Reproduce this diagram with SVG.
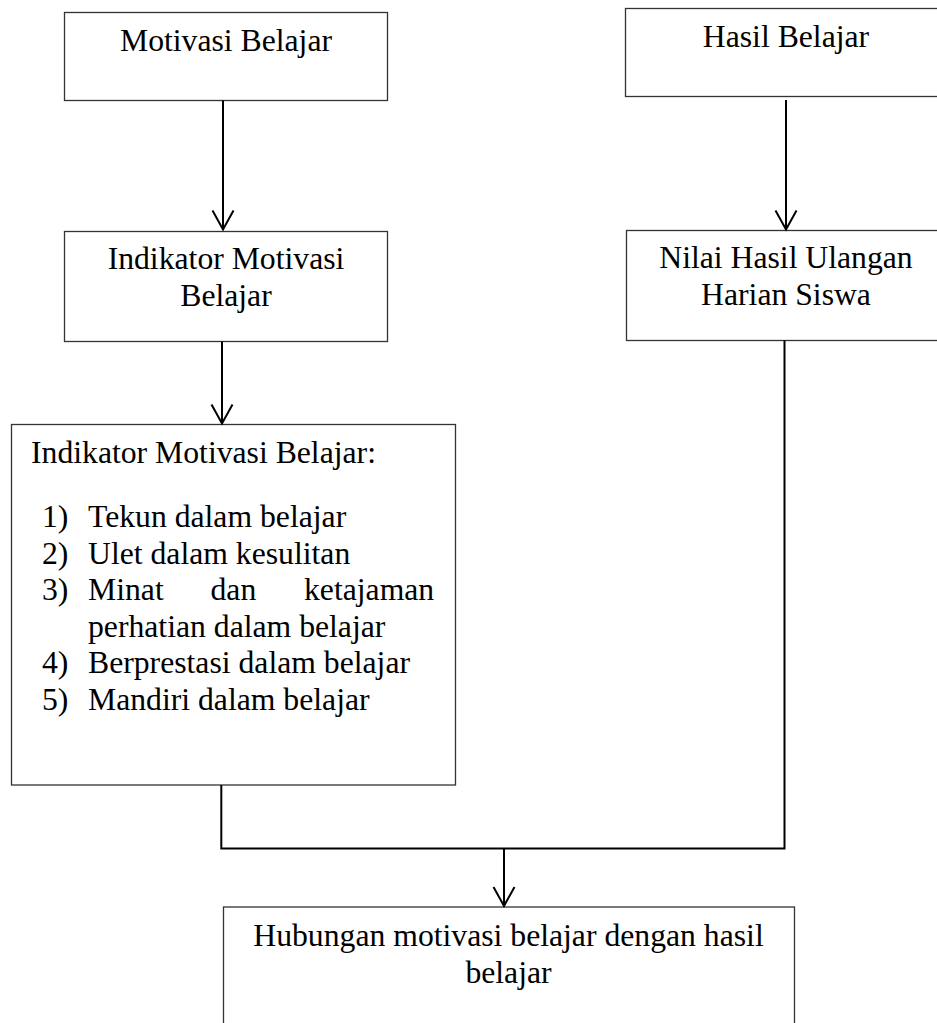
<svg xmlns="http://www.w3.org/2000/svg" width="937" height="1023" viewBox="0 0 937 1023">
  <style>
    .box { fill: #ffffff; stroke: #333333; stroke-width: 1.3; }
    .t { font-family: "Liberation Serif", "Times New Roman", serif; font-size: 31.7px; fill: #000000; }
    .c { text-anchor: middle; }
    .conn { fill: none; stroke: #000000; stroke-width: 2; }
  </style>
  <defs>
    <marker id="arrow" markerUnits="userSpaceOnUse" markerWidth="40" markerHeight="40" refX="0" refY="0" orient="auto" overflow="visible">
      <path d="M -19 -10.5 L 0 0 L -19 10.5" fill="none" stroke="#000000" stroke-width="2"/>
    </marker>
  </defs>
  <rect width="937" height="1023" fill="#ffffff"/>

  <g id="node-motivasi-belajar">
    <rect class="box" x="64.5" y="12.5" width="323" height="88"/>
    <text class="t c" x="226" y="51">Motivasi Belajar</text>
  </g>

  <g id="node-hasil-belajar">
    <rect class="box" x="625.5" y="8.5" width="322" height="88"/>
    <text class="t c" x="786" y="47">Hasil Belajar</text>
  </g>

  <g id="node-indikator-motivasi">
    <rect class="box" x="64.5" y="231.5" width="323" height="110"/>
    <text class="t c" x="226" y="269">Indikator Motivasi</text>
    <text class="t c" x="226" y="306">Belajar</text>
  </g>

  <g id="node-nilai-hasil">
    <rect class="box" x="626.5" y="230.5" width="320" height="110"/>
    <text class="t c" x="786" y="268">Nilai Hasil Ulangan</text>
    <text class="t c" x="786" y="305">Harian Siswa</text>
  </g>

  <g id="node-indikator-list">
    <rect class="box" x="11.5" y="424.5" width="444" height="360.5"/>
    <text class="t" x="31" y="463">Indikator Motivasi Belajar:</text>
    <text class="t" x="42" y="527">1)</text>
    <text class="t" x="88" y="527">Tekun dalam belajar</text>
    <text class="t" x="42" y="563.5">2)</text>
    <text class="t" x="88" y="563.5">Ulet dalam kesulitan</text>
    <text class="t" x="42" y="600">3)</text>
    <text class="t" y="600"><tspan x="88">Minat</tspan><tspan x="210.5">dan</tspan><tspan x="304">ketajaman</tspan></text>
    <text class="t" x="88" y="636.7">perhatian dalam belajar</text>
    <text class="t" x="42" y="673.3">4)</text>
    <text class="t" x="88" y="673.3">Berprestasi dalam belajar</text>
    <text class="t" x="42" y="710">5)</text>
    <text class="t" x="88" y="710">Mandiri dalam belajar</text>
  </g>

  <g id="node-hubungan">
    <rect class="box" x="223.5" y="907" width="571" height="200"/>
    <text class="t c" x="508.5" y="946">Hubungan motivasi belajar dengan hasil</text>
    <text class="t c" x="508.5" y="983">belajar</text>
  </g>

  <g id="connectors">
    <line class="conn" x1="223" y1="100.5" x2="223" y2="229.5" marker-end="url(#arrow)"/>
    <line class="conn" x1="786" y1="100" x2="786" y2="229.5" marker-end="url(#arrow)"/>
    <line class="conn" x1="222" y1="341.5" x2="222" y2="423.5" marker-end="url(#arrow)"/>
    <polyline class="conn" points="221.3,785 221.3,848.5 784.5,848.5 784.5,340.5"/>
    <line class="conn" x1="504" y1="848.5" x2="504" y2="906" marker-end="url(#arrow)"/>
  </g>
</svg>
